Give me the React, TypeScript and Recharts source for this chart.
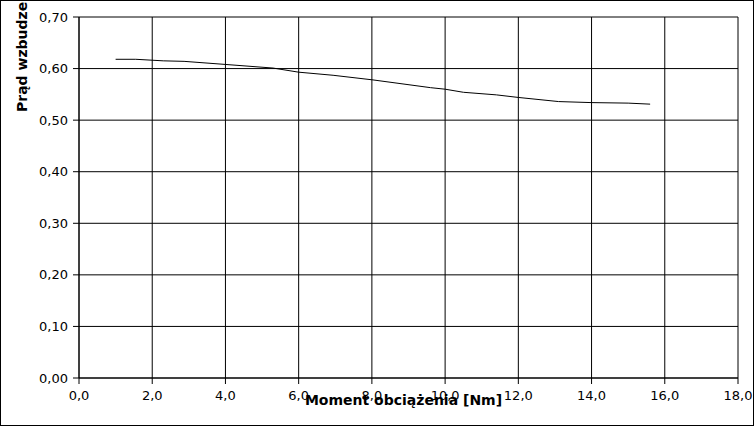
import { LineChart, Line, XAxis, YAxis, CartesianGrid } from "recharts";

// Moment obciążenia [Nm]
const moment = [1.0, 1.55, 2.3, 2.87, 4.0, 5.3, 6.0, 6.94, 8.03, 9.6, 10.0, 10.5, 11.4, 12.0, 13.1, 14.0, 15.0, 15.6];
// Prąd wzbudzenia [A]
const prad = [0.618, 0.618, 0.615, 0.614, 0.608, 0.601, 0.593, 0.587, 0.578, 0.563, 0.56, 0.554, 0.549, 0.544, 0.536, 0.534, 0.533, 0.531];

const xTicks = [0, 2, 4, 6, 8, 10, 12, 14, 16, 18];
const yTicks = [0, 0.1, 0.2, 0.3, 0.4, 0.5, 0.6, 0.7];

const data = moment.map((m, i) => ({ m, p: prad[i] }));

const FONT = "'DejaVu Sans', sans-serif";
const comma = (v: number, d: number) => v.toFixed(d).replace(".", ",");

const XLabel = (props: any) => {
  const vb = props.viewBox;
  return (
    <text x={vb.x + vb.width / 2 - 5} y={405} textAnchor="middle" fontFamily={FONT} fontSize={14} fontWeight="bold" fill="#000">
      Moment obciążenia [Nm]
    </text>
  );
};

const YLabel = () => (
  <text x={27} y={112} transform="rotate(-90, 27, 112)" textAnchor="start" fontFamily={FONT} fontSize={14} fontWeight="bold" fill="#000">
    Prąd wzbudzenia [A]
  </text>
);

export default function App() {
  return (
    <div style={{ position: "absolute", top: 0, left: 0, width: 754, height: 426, background: "#fff" }}>
      <LineChart width={754} height={426} data={data} margin={{ top: 17, right: 16, bottom: 0, left: 0 }}>
        <CartesianGrid stroke="#000" strokeWidth={1} horizontalValues={yTicks} verticalValues={xTicks} />
        <XAxis
          dataKey="m"
          type="number"
          domain={[0, 18]}
          ticks={xTicks}
          height={48}
          stroke="#000"
          tickSize={6}
          tickMargin={7}
          tick={{ fill: "#000", fontSize: 13, fontFamily: FONT }}
          tickFormatter={(v: number) => comma(v, 1)}
          label={<XLabel />}
          interval={0}
        />
        <YAxis
          type="number"
          domain={[0, 0.7]}
          ticks={yTicks}
          width={79}
          stroke="#000"
          tickSize={6}
          tickMargin={5}
          tick={{ fill: "#000", fontSize: 13, fontFamily: FONT }}
          tickFormatter={(v: number) => comma(v, 2)}
          label={<YLabel />}
          interval={0}
        />
        <Line dataKey="p" stroke="#000" strokeWidth={1} dot={false} type="linear" isAnimationActive={false} />
      </LineChart>
      <div style={{ position: "absolute", inset: 0, border: "1px solid #000", boxSizing: "border-box", pointerEvents: "none" }} />
    </div>
  );
}
